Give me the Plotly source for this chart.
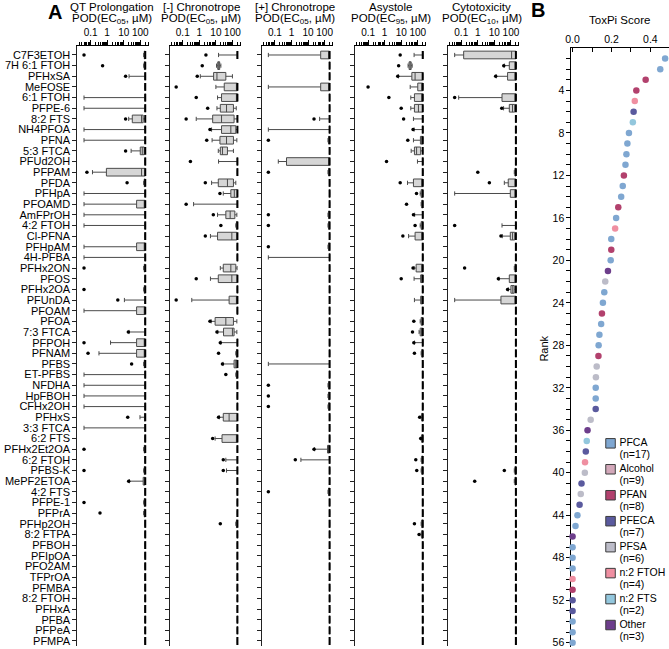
import plotly.graph_objects as go

W, H = 669, 649
FONT = "Liberation Sans, Arial, sans-serif"

compounds = ["C7F3ETOH", "7H 6:1 FTOH", "PFHxSA", "MeFOSE", "6:1 FTOH", "PFPE-6", "8:2 FTS",
             "NH4PFOA", "PFNA", "5:3 FTCA", "PFUd2OH", "PFPAM", "PFDA", "PFHpA", "PFOAMD",
             "AmFPrOH", "4:2 FTOH", "Cl-PFNA", "PFHpAM", "4H-PFBA", "PFHx2ON", "PFOS",
             "PFHx2OA", "PFUnDA", "PFOAM", "PFOA", "7:3 FTCA", "PFPOH", "PFNAM", "PFBS",
             "ET-PFBS", "NFDHA", "HpFBOH", "CFHx2OH", "PFHxS", "3:3 FTCA", "6:2 FTS",
             "PFHx2Et2OA", "6:2 FTOH", "PFBS-K", "MePF2ETOA", "4:2 FTS", "PFPE-1", "PFPrA",
             "PFHp2OH", "8:2 FTPA", "PFBOH", "PFIpOA", "PFO2AM", "TFPrOA", "PFMBA",
             "8:2 FTOH", "PFHxA", "PFBA", "PFPeA", "PFMPA"]

MAXC = 200.0   # highest tested concentration, uM
LOWC = 0.04    # lowest tested concentration, uM
INACTIVE = [MAXC, MAXC, MAXC, MAXC, MAXC]
LINE = [LOWC, MAXC, MAXC, MAXC, MAXC]
TINY = [160, 175, 190, MAXC, MAXC]

# [lower whisker, Q1, median, Q3, upper whisker]; unlisted compounds are inactive
qt_stats = {
    "C7F3ETOH": TINY, "7H 6:1 FTOH": TINY, "PFHxSA": [21, 200, 200, 200, 200],
    "6:1 FTOH": LINE, "PFPE-6": LINE, "8:2 FTS": [20, 33, 120, 150, 200],
    "NH4PFOA": LINE, "PFNA": LINE, "5:3 FTCA": [28, 100, 132, 174, 200],
    "PFPAM": [0.13, 0.9, 120, 200, 200], "PFDA": TINY, "PFHpA": LINE,
    "PFOAMD": [0.04, 60, 200, 200, 200], "AmFPrOH": LINE, "4:2 FTOH": LINE,
    "PFHpAM": [0.04, 60, 200, 200, 200], "4H-PFBA": LINE, "PFHx2ON": TINY,
    "PFHx2OA": TINY, "PFUnDA": [11, 200, 200, 200, 200], "PFOAM": [0.04, 60, 200, 200, 200],
    "7:3 FTCA": [21, 200, 200, 200, 200], "PFPOH": [1.6, 60, 200, 200, 200],
    "PFNAM": [0.32, 60, 200, 200, 200], "PFBS": TINY, "ET-PFBS": LINE, "NFDHA": LINE,
    "HpFBOH": LINE, "CFHx2OH": LINE, "PFHxS": [96, 180, 195, 200, 200], "3:3 FTCA": LINE,
    "PFHx2Et2OA": TINY, "PFBS-K": TINY, "MePF2ETOA": [22, 150, 180, 200, 200],
    "PFPE-1": TINY, "PFPrA": TINY,
}
qt_out = {
    "C7F3ETOH": [0.04], "7H 6:1 FTOH": [0.53], "PFHxSA": [13], "8:2 FTS": [13],
    "5:3 FTCA": [13], "PFPAM": [0.06], "PFDA": [16], "PFHx2ON": [0.04], "PFHx2OA": [0.04],
    "PFUnDA": [4.4], "7:3 FTCA": [19], "PFPOH": [0.04], "PFNAM": [0.07], "PFBS": [30],
    "PFHxS": [17.5], "PFHx2Et2OA": [0.04], "PFBS-K": [0.04], "MePF2ETOA": [20],
    "PFPE-1": [0.04], "PFPrA": [0.37],
}

nchr_stats = {
    "C7F3ETOH": [14.5, 200, 200, 200, 200], "7H 6:1 FTOH": [11, 13, 15, 17, 20],
    "PFHxSA": [1.15, 7.3, 11.6, 40, 100], "MeFOSE": [10, 32, 200, 200, 200],
    "6:1 FTOH": [12.6, 22, 200, 200, 200], "PFPE-6": [11.6, 18.5, 44, 115, 170],
    "8:2 FTS": [0.65, 6.4, 22, 126, 200], "NH4PFOA": [5.5, 22, 80, 160, 200],
    "PFNA": [5.9, 17.6, 44, 115, 185], "5:3 FTCA": [14, 18.5, 25, 50, 115],
    "PFUd2OH": [14.5, 200, 200, 200, 200], "PFDA": [5.5, 14, 50, 115, 160],
    "PFHpA": [28, 80, 130, 200, 200], "PFOAMD": [0.45, 200, 200, 200, 200],
    "AmFPrOH": [12.6, 40, 73, 140, 185], "4:2 FTOH": TINY,
    "Cl-PFNA": [4.7, 12.6, 92, 185, 200], "PFHx2ON": [18.5, 28, 80, 160, 190],
    "PFOS": [4.7, 14, 92, 200, 200], "PFUnDA": [0.35, 63, 200, 200, 200],
    "PFOA": [5.2, 9, 40, 115, 185], "7:3 FTCA": [13, 29, 100, 126, 185],
    "PFPOH": [20, 200, 200, 200, 200], "PFNAM": TINY, "PFBS": [27, 126, 160, 200, 200],
    "ET-PFBS": TINY, "PFHxS": [16, 28, 63, 200, 200], "6:2 FTS": [9, 23.5, 200, 200, 200],
    "6:2 FTOH": [40, 200, 200, 200, 200], "PFBS-K": [44, 200, 200, 200, 200],
    "PFHp2OH": TINY,
}
nchr_out = {
    "C7F3ETOH": [2.5], "7H 6:1 FTOH": [1.5], "PFHxSA": [0.75], "MeFOSE": [0.04],
    "6:1 FTOH": [0.65], "PFPE-6": [3.2], "8:2 FTS": [0.16], "NH4PFOA": [4.4], "PFNA": [2.8],
    "PFUd2OH": [0.29], "PFDA": [2.3], "PFHpA": [17.6], "PFOAMD": [0.16], "AmFPrOH": [7],
    "4:2 FTOH": [20], "Cl-PFNA": [2.3], "PFOS": [0.65], "PFUnDA": [0.04], "PFOA": [4.4],
    "7:3 FTCA": [11.6], "PFPOH": [18.5], "PFNAM": [14.5], "PFBS": [25], "ET-PFBS": [40],
    "PFHxS": [14.5], "6:2 FTS": [6.4], "6:2 FTOH": [28], "PFBS-K": [28], "PFHp2OH": [18.5],
}

pchr_stats = {
    "C7F3ETOH": [0.04, 58, 200, 200, 200], "MeFOSE": [0.04, 58, 200, 200, 200],
    "8:2 FTS": [50, 200, 200, 200, 200], "NH4PFOA": LINE, "PFNA": TINY,
    "PFUd2OH": [0.16, 0.5, 200, 200, 200], "PFPAM": TINY, "AmFPrOH": TINY, "4:2 FTOH": TINY,
    "PFHpAM": TINY, "4H-PFBA": LINE, "PFBS": LINE, "NFDHA": TINY, "HpFBOH": TINY,
    "CFHx2OH": TINY, "PFHx2Et2OA": [25, 150, 180, 200, 200],
    "6:2 FTOH": [3.7, 200, 200, 200, 200], "4:2 FTS": TINY,
}
pchr_out = {
    "8:2 FTS": [23], "PFNA": [0.04], "PFPAM": [0.04], "AmFPrOH": [0.04], "4:2 FTOH": [0.04],
    "PFHpAM": [0.04], "NFDHA": [0.04], "HpFBOH": [0.04], "CFHx2OH": [0.04],
    "PFHx2Et2OA": [23], "6:2 FTOH": [1.7], "4:2 FTS": [0.04],
}

asy_stats = {
    "C7F3ETOH": [60, 200, 200, 200, 200], "7H 6:1 FTOH": [26, 30, 35, 40, 46],
    "PFHxSA": [6.8, 44, 69, 190, 200], "MeFOSE": [35, 100, 200, 200, 200],
    "6:1 FTOH": [38, 63, 200, 200, 200], "PFPE-6": [38, 63, 110, 200, 200],
    "8:2 FTS": [55, 200, 200, 200, 200], "NH4PFOA": [60, 200, 200, 200, 200],
    "PFNA": [55, 145, 175, 200, 200], "5:3 FTCA": [40, 63, 85, 150, 200],
    "PFUd2OH": [96, 200, 200, 200, 200], "PFDA": [24, 55, 200, 200, 200],
    "PFHpA": [140, 160, 185, 200, 200], "PFOAMD": TINY, "AmFPrOH": [65, 200, 200, 200, 200],
    "4:2 FTOH": [140, 160, 185, 200, 200], "Cl-PFNA": [28, 69, 200, 200, 200],
    "PFHx2ON": [60, 80, 200, 200, 200], "PFOS": [60, 150, 190, 200, 200],
    "PFUnDA": [63, 150, 190, 200, 200], "PFOA": [140, 160, 185, 200, 200],
    "7:3 FTCA": [120, 140, 170, 200, 200], "PFPOH": [64, 200, 200, 200, 200],
    "PFNAM": TINY, "PFHxS": TINY, "6:2 FTS": TINY, "6:2 FTOH": TINY, "PFBS-K": TINY,
    "PFHp2OH": TINY, "8:2 FTPA": TINY,
}
asy_out = {
    "C7F3ETOH": [8.7], "7H 6:1 FTOH": [7], "PFHxSA": [6.2], "MeFOSE": [0.1], "6:1 FTOH": [1.8],
    "PFPE-6": [10], "8:2 FTS": [14], "NH4PFOA": [52], "PFNA": [25], "PFUd2OH": [1.3],
    "PFDA": [8.7], "PFHpA": [84], "PFOAMD": [21], "AmFPrOH": [55], "4:2 FTOH": [69],
    "Cl-PFNA": [12.6], "PFHx2ON": [52], "PFOS": [10], "PFOA": [58], "7:3 FTCA": [48],
    "PFPOH": [58], "PFNAM": [63], "PFHxS": [130], "6:2 FTS": [150], "6:2 FTOH": [76],
    "PFBS-K": [87], "PFHp2OH": [63], "8:2 FTPA": [120],
}

cyto_stats = {
    "C7F3ETOH": [0.04, 0.14, 110, 200, 200], "7H 6:1 FTOH": [40, 80, 200, 200, 200],
    "PFHxSA": [13, 63, 200, 200, 200], "6:1 FTOH": [0.07, 29, 200, 200, 200],
    "PFPE-6": [36, 80, 125, 170, 200], "PFPAM": TINY, "PFDA": [40, 69, 200, 200, 200],
    "PFHpA": [0.04, 92, 200, 200, 200], "4:2 FTOH": [29, 200, 200, 200, 200],
    "Cl-PFNA": [30, 92, 126, 170, 200], "PFHx2ON": TINY, "PFOS": [19, 80, 200, 200, 200],
    "PFHx2OA": [70, 100, 130, 160, 200], "PFUnDA": [0.04, 25, 200, 200, 200],
    "PFBS-K": TINY, "MePF2ETOA": TINY,
}
cyto_out = {
    "7H 6:1 FTOH": [37], "PFHxSA": [12], "6:1 FTOH": [0.04], "PFPE-6": [28], "PFPAM": [1],
    "PFDA": [5], "4:2 FTOH": [0.04], "Cl-PFNA": [25], "PFHx2ON": [0.16], "PFOS": [17.5],
    "PFHx2OA": [63], "PFBS-K": [40], "MePF2ETOA": [0.65],
}

panel_titles = ["QT Prolongation", "[-] Chronotrope", "[+] Chronotrope", "Asystole", "Cytotoxicity"]
panel_units = ["POD(EC<sub>05</sub>, µM)", "POD(EC<sub>05</sub>, µM)", "POD(EC<sub>05</sub>, µM)",
               "POD(EC<sub>95</sub>, µM)", "POD(EC<sub>10</sub>, µM)"]
panel_stats = [qt_stats, nchr_stats, pchr_stats, asy_stats, cyto_stats]
panel_out = [qt_out, nchr_out, pchr_out, asy_out, cyto_out]

x_major = [0.1, 1, 10, 100]
x_major_text = ["0.1", "1", "10", "100"]
x_minor = [0.02, 0.03, 0.04, 0.05, 0.06, 0.07, 0.08, 0.09,
           0.2, 0.3, 0.4, 0.5, 0.6, 0.7, 0.8, 0.9,
           2, 3, 4, 5, 6, 7, 8, 9, 20, 30, 40, 50, 60, 70, 80, 90, 200, 300]

# Panel B: ToxPi ranking
toxpi_rank = list(range(1, 57))
toxpi_score = [0.476, 0.451, 0.376, 0.328, 0.320, 0.314, 0.310, 0.290, 0.282, 0.277,
               0.272, 0.264, 0.258, 0.250, 0.235, 0.224, 0.219, 0.199, 0.199, 0.196,
               0.182, 0.168, 0.163, 0.156, 0.151, 0.147, 0.138, 0.134, 0.133, 0.124,
               0.120, 0.119, 0.119, 0.119, 0.093, 0.077, 0.073, 0.068, 0.064, 0.063,
               0.046, 0.042, 0.036, 0.025, 0.015, 0.0, 0.0, 0.0, 0.0, 0.0,
               0.0, 0.0, 0.0, 0.0, 0.0, 0.0]
toxpi_class = ["PFCA", "PFCA", "PFAN", "PFAN", "n:2 FTOH", "PFECA", "n:2 FTS", "PFCA",
               "PFCA", "PFCA", "PFCA", "PFAN", "PFCA", "PFCA", "PFAN", "PFCA",
               "n:2 FTOH", "PFCA", "PFAN", "PFCA", "Other", "PFSA", "PFCA", "PFCA", "PFAN",
               "PFCA", "PFCA", "PFCA", "PFAN", "PFSA", "PFSA", "PFCA", "PFCA",
               "PFECA", "PFSA", "Other", "n:2 FTS", "PFECA", "n:2 FTOH", "PFSA", "PFECA",
               "PFSA", "PFECA", "PFCA", "PFCA", "Other", "PFCA", "PFCA", "PFCA",
               "n:2 FTOH", "PFAN", "PFECA", "PFECA", "PFCA", "PFCA", "PFCA"]
b_major = [4, 8, 12, 16, 20, 24, 28, 32, 36, 40, 44, 48, 52, 56]

legend_classes = ["PFCA", "Alcohol", "PFAN", "PFECA", "PFSA", "n:2 FTOH", "n:2 FTS", "Other"]
legend_n = [17, 9, 8, 7, 6, 4, 2, 3]
class_colors = {"PFCA": "#7fa7d1", "Alcohol": "#d3a8ba", "PFAN": "#b2416d", "PFECA": "#5a5a9e",
                "PFSA": "#bcbcc8", "n:2 FTOH": "#ef8fa1", "n:2 FTS": "#93c7dd", "Other": "#6d3e8b"}

fig = go.Figure()

panel_left = [72, 165, 258, 352, 446]
PANEL_W = 72
title_cx = [107, 197, 292, 388, 480]
Y_TOP, Y_BOT = 46, 647.3

layout = dict(width=W, height=H, margin=dict(l=0, r=0, t=0, b=0),
              paper_bgcolor="white", plot_bgcolor="rgba(0,0,0,0)", showlegend=False,
              font=dict(family=FONT, size=10.5, color="black"))

annotations = []
for i in range(5):
    n = "" if i == 0 else str(i + 1)
    xa, ya = "x" + n, "y" + n
    rows = [panel_stats[i].get(c, INACTIVE) for c in compounds]
    fig.add_trace(go.Box(
        y=compounds, orientation="h",
        lowerfence=[r[0] for r in rows], q1=[r[1] for r in rows], median=[r[2] for r in rows],
        q3=[r[3] for r in rows], upperfence=[r[4] for r in rows],
        fillcolor="#d6d6d6", line=dict(color="#4a4a4a", width=1),
        whiskerwidth=0.55, width=0.72, boxpoints=False,
        xaxis=xa, yaxis=ya, showlegend=False, hoverinfo="skip"))
    dash_y = [c for c, r in zip(compounds, rows) if r[4] >= MAXC]
    fig.add_trace(go.Scatter(
        x=[MAXC] * len(dash_y), y=dash_y, mode="markers",
        marker=dict(symbol="line-ns", size=5.6, line=dict(width=2, color="black")),
        xaxis=xa, yaxis=ya, showlegend=False, hoverinfo="skip"))
    ox, oy = [], []
    for c in compounds:
        for v in panel_out[i].get(c, []):
            ox.append(v)
            oy.append(c)
    fig.add_trace(go.Scatter(
        x=ox, y=oy, mode="markers", marker=dict(size=3.5, color="black"),
        xaxis=xa, yaxis=ya, showlegend=False, hoverinfo="skip"))

    layout["xaxis" + n] = dict(
        domain=[panel_left[i] / W, (panel_left[i] + PANEL_W) / W], type="log",
        range=[-1.80, 2.51], side="top", anchor=ya, showline=True, linecolor="black",
        linewidth=1, ticks="outside", ticklen=4.5, tickcolor="black",
        tickvals=x_major, ticktext=x_major_text, tickfont=dict(size=10),
        minor=dict(tickvals=x_minor, ticks="outside", ticklen=2.5, tickcolor="black"),
        showgrid=False, zeroline=False, fixedrange=True)
    layout["yaxis" + n] = dict(
        domain=[1 - Y_BOT / H, 1 - Y_TOP / H], anchor=xa, type="category",
        categoryorder="array", categoryarray=compounds, range=[55.5, -0.85],
        tickmode="array", tickvals=compounds, ticktext=compounds,
        showline=True, linecolor="#222222", linewidth=1, ticks="outside", ticklen=4,
        tickcolor="#222222", showticklabels=(i == 0), tickfont=dict(size=11),
        showgrid=False, zeroline=False, fixedrange=True)
    annotations.append(dict(text=panel_titles[i], x=title_cx[i] / W, y=1 - 7 / H,
                            xref="paper", yref="paper", showarrow=False,
                            xanchor="center", yanchor="middle", font=dict(size=11.5)))
    annotations.append(dict(text=panel_units[i], x=title_cx[i] / W, y=1 - 19.5 / H,
                            xref="paper", yref="paper", showarrow=False,
                            xanchor="center", yanchor="middle", font=dict(size=11.5)))

# Panel B
fig.add_trace(go.Scatter(
    x=toxpi_score, y=toxpi_rank, mode="markers",
    marker=dict(size=6.5, color=[class_colors[c] for c in toxpi_class]),
    xaxis="x6", yaxis="y6", showlegend=False, hoverinfo="skip", cliponaxis=False))

layout["xaxis6"] = dict(domain=[570 / W, 1.0], range=[-0.0087, 0.496], side="top",
                        anchor="y6", showline=True, linecolor="black", linewidth=1,
                        ticks="inside", ticklen=4, tickcolor="black",
                        tickvals=[0, 0.2, 0.4], ticktext=["0.0", "0.2", "0.4"],
                        minor=dict(tickvals=[0.1, 0.3], ticks="inside", ticklen=4,
                                   tickcolor="black"),
                        tickfont=dict(size=10.5), showgrid=False, zeroline=False)
layout["yaxis6"] = dict(domain=[1 - 648 / H, 1 - 48 / H], range=[56.4, 0], anchor="x6",
                        showline=True, linecolor="black", linewidth=1, ticks="outside",
                        ticklen=3.5, tickcolor="black", tickvals=b_major,
                        minor=dict(tickvals=toxpi_rank, ticks="outside", ticklen=3.5,
                                   tickcolor="black"),
                        ticklabeloverflow="allow",
                        tickfont=dict(size=10.5), showgrid=False, zeroline=False,
                        layer="below traces")

# Legend for panel B (pixel-space overlay axis)
leg_y1 = [444 + 26 * k for k in range(len(legend_classes))]
leg_y2 = [456 + 26 * k for k in range(len(legend_classes))]
fig.add_trace(go.Scatter(
    x=[610] * len(legend_classes), y=leg_y1, mode="markers",
    marker=dict(symbol="square", size=9.5, color=[class_colors[c] for c in legend_classes],
                line=dict(color="#3c3c3c", width=1)),
    xaxis="x7", yaxis="y7", showlegend=False, hoverinfo="skip"))
fig.add_trace(go.Scatter(
    x=[619] * len(legend_classes), y=leg_y1, mode="text", text=legend_classes,
    textposition="middle right", textfont=dict(size=10.5, family=FONT, color="black"),
    xaxis="x7", yaxis="y7", showlegend=False, hoverinfo="skip"))
fig.add_trace(go.Scatter(
    x=[619] * len(legend_classes), y=leg_y2, mode="text",
    text=["(n=%d)" % v for v in legend_n],
    textposition="middle right", textfont=dict(size=10.5, family=FONT, color="black"),
    xaxis="x7", yaxis="y7", showlegend=False, hoverinfo="skip"))
layout["xaxis7"] = dict(domain=[0, 1], range=[0, W], visible=False, anchor="y7", fixedrange=True)
layout["yaxis7"] = dict(domain=[0, 1], range=[H, 0], visible=False, anchor="x7", fixedrange=True)

annotations += [
    dict(text="<b>A</b>", x=49 / W, y=1 - 12 / H, xref="paper", yref="paper", showarrow=False,
         xanchor="center", yanchor="middle", font=dict(size=20)),
    dict(text="<b>B</b>", x=537 / W, y=1 - 10.5 / H, xref="paper", yref="paper", showarrow=False,
         xanchor="center", yanchor="middle", font=dict(size=20)),
    dict(text="ToxPi Score", x=619 / W, y=1 - 20 / H, xref="paper", yref="paper",
         showarrow=False, xanchor="center", yanchor="middle", font=dict(size=11.5)),
    dict(text="Rank", x=543 / W, y=1 - 349 / H, xref="paper", yref="paper", showarrow=False,
         textangle=-90, xanchor="center", yanchor="middle", font=dict(size=11)),
]
layout["annotations"] = annotations
fig.update_layout(**layout)
fig.write_html("out.html", config={"displayModeBar": False},
               post_script="document.body.style.margin='0';document.body.style.padding='0';")
